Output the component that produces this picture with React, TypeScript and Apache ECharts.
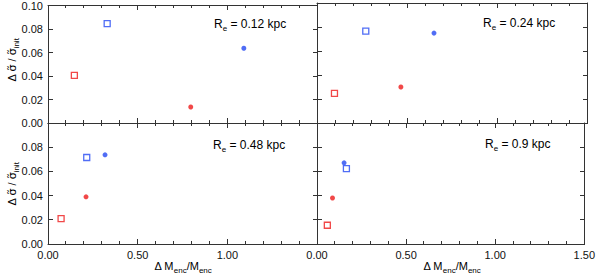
import React, { useEffect, useRef } from 'react';
import * as echarts from 'echarts';

// Effective radius of each panel (kpc)
const panelRe = ['0.12', '0.24', '0.48', '0.9'];
// Tick labels / tick positions
const xTicks = [0, 0.5, 1.0, 1.5];
const xMinorTicks = [0.1, 0.2, 0.3, 0.4, 0.6, 0.7, 0.8, 0.9, 1.1, 1.2, 1.3, 1.4];
const yTicks = [0, 0.02, 0.04, 0.06, 0.08, 0.1];

// Blue open squares
const blueSquareX = [0.33, 0.271, 0.216, 0.165];
const blueSquareY = [0.0845, 0.0765, 0.0715, 0.0623];
// Blue filled dots
const blueDotX = [1.092, 0.65, 0.318, 0.152];
const blueDotY = [0.0636, 0.0749, 0.0737, 0.0671];
// Red open squares
const redSquareX = [0.147, 0.097, 0.073, 0.058];
const redSquareY = [0.0405, 0.0247, 0.021, 0.0155];
// Red filled dots
const redDotX = [0.796, 0.466, 0.212, 0.087];
const redDotY = [0.0136, 0.03, 0.039, 0.038];

const BLUE = '#2448f2';
const RED = '#ee1a1a';
const AXIS = '#333';
const FONT = 'Liberation Sans';

export default function App() {
  const ref = useRef<HTMLDivElement>(null);
  useEffect(() => {
    if (!ref.current) return;
    const chart = echarts.init(ref.current, undefined, { renderer: 'svg' });
    const grids = [
      { left: 48, top: 3, width: 269, height: 120 },
      { left: 317, top: 3, width: 270, height: 120 },
      { left: 48, top: 123, width: 269, height: 121 },
      { left: 317, top: 123, width: 270, height: 121 },
    ];
    const xMin = xTicks[0];
    const xMax = xTicks[xTicks.length - 1];
    const yMin = yTicks[0];
    const yMax = yTicks[yTicks.length - 1];

    // tick descriptors: [x, y, side(0 bottom,1 top,2 left,3 right), length]
    const tickData: number[][] = [];
    xTicks.forEach((v) => {
      tickData.push([v, yMin, 0, 5]);
      tickData.push([v, yMax, 1, 5]);
    });
    xMinorTicks.forEach((v) => {
      tickData.push([v, yMin, 0, 3]);
      tickData.push([v, yMax, 1, 3]);
    });
    yTicks.forEach((v) => {
      tickData.push([xMin, v, 2, 5]);
      tickData.push([xMax, v, 3, 5]);
    });

    const xAxis: any[] = [];
    const yAxis: any[] = [];
    const series: any[] = [];
    const labelStyle = {
      margin: 5,
      fontSize: 11,
      fontFamily: FONT,
      color: '#111',
      formatter: (v: number) => v.toFixed(2),
    };
    grids.forEach((_, gi) => {
      xAxis.push({
        gridIndex: gi,
        type: 'value',
        position: 'bottom',
        min: xMin,
        max: xMax,
        interval: xTicks[1] - xTicks[0],
        splitLine: { show: false },
        axisLine: { show: true, onZero: false, lineStyle: { color: AXIS, width: 1 } },
        axisTick: { show: false },
        axisLabel: { ...labelStyle, show: gi >= 2, showMinLabel: true, showMaxLabel: gi === 3 },
      });
      xAxis.push({
        gridIndex: gi,
        type: 'value',
        position: 'top',
        min: xMin,
        max: xMax,
        interval: xTicks[1] - xTicks[0],
        splitLine: { show: false },
        axisLine: { show: true, onZero: false, lineStyle: { color: AXIS, width: 1 } },
        axisTick: { show: false },
        axisLabel: { show: false },
      });
      yAxis.push({
        gridIndex: gi,
        type: 'value',
        position: 'left',
        min: yMin,
        max: yMax,
        interval: yTicks[1] - yTicks[0],
        splitLine: { show: false },
        axisLine: { show: true, onZero: false, lineStyle: { color: AXIS, width: 1 } },
        axisTick: { show: false },
        axisLabel: { ...labelStyle, show: gi % 2 === 0, showMinLabel: true, showMaxLabel: gi === 0 },
      });
      yAxis.push({
        gridIndex: gi,
        type: 'value',
        position: 'right',
        min: yMin,
        max: yMax,
        interval: yTicks[1] - yTicks[0],
        splitLine: { show: false },
        axisLine: { show: true, onZero: false, lineStyle: { color: AXIS, width: 1 } },
        axisTick: { show: false },
        axisLabel: { show: false },
      });

      const ax = { xAxisIndex: 2 * gi, yAxisIndex: 2 * gi };

      // inward-pointing ticks on all four sides of the panel
      series.push({
        type: 'custom',
        ...ax,
        silent: true,
        clip: false,
        z: 1,
        encode: { x: 0, y: 1 },
        data: tickData,
        renderItem: (params: any, api: any) => {
          const p = api.coord([api.value(0), api.value(1)]);
          const side = api.value(2);
          const len = api.value(3);
          const px = Math.floor(p[0]);
          const py = Math.floor(p[1]);
          let shape;
          if (side === 0) shape = { x: px, y: py - len, width: 1, height: len };
          else if (side === 1) shape = { x: px, y: py, width: 1, height: len };
          else if (side === 2) shape = { x: px, y: py, width: len, height: 1 };
          else shape = { x: px - len + 1, y: py, width: len, height: 1 };
          return { type: 'rect', shape, style: { fill: AXIS } };
        },
      });

      series.push({
        type: 'scatter', ...ax, symbol: 'rect', symbolSize: 6, z: 3,
        itemStyle: { color: '#fff', borderColor: BLUE, borderWidth: 1.3 },
        data: [[blueSquareX[gi], blueSquareY[gi]]],
      });
      series.push({
        type: 'scatter', ...ax, symbol: 'circle', symbolSize: 5, z: 3,
        itemStyle: { color: BLUE },
        data: [[blueDotX[gi], blueDotY[gi]]],
      });
      series.push({
        type: 'scatter', ...ax, symbol: 'rect', symbolSize: 6, z: 3,
        itemStyle: { color: '#fff', borderColor: RED, borderWidth: 1.3 },
        data: [[redSquareX[gi], redSquareY[gi]]],
      });
      series.push({
        type: 'scatter', ...ax, symbol: 'circle', symbolSize: 5, z: 3,
        itemStyle: { color: RED },
        data: [[redDotX[gi], redDotY[gi]]],
      });
    });

    const rich = {
      m: { fontSize: 12, fontFamily: FONT, color: '#111', lineHeight: 16, verticalAlign: 'middle' },
      s: { fontSize: 8, fontFamily: FONT, color: '#111', lineHeight: 8, verticalAlign: 'bottom' },
    };
    const richSmall = {
      m: { fontSize: 11, fontFamily: FONT, color: '#111', lineHeight: 16, verticalAlign: 'middle' },
      t: { fontSize: 11, fontFamily: 'DejaVu Sans', color: '#111', lineHeight: 16, verticalAlign: 'middle' },
      s: { fontSize: 8, fontFamily: FONT, color: '#111', lineHeight: 8, verticalAlign: 'bottom' },
    };
    const rePos = [
      [214, 24],
      [483, 23],
      [213, 145],
      [485, 144],
    ];
    const graphic: any[] = [];
    panelRe.forEach((r, i) => {
      graphic.push({
        type: 'text',
        x: rePos[i][0],
        y: rePos[i][1],
        style: {
          text: `{m|R}{s|e}{m| = ${r} kpc}`,
          rich,
          align: 'left',
          verticalAlign: 'middle',
        },
      });
    });
    const yLabel = '{m|Δ }{t|σ\u0303}{m| / }{t|σ\u0303}{s|init}';
    [60, 184].forEach((cy) => {
      graphic.push({
        type: 'text',
        x: 12,
        y: cy,
        rotation: Math.PI / 2,
        style: { text: yLabel, rich: richSmall, align: 'center', verticalAlign: 'middle' },
      });
    });
    const xLabel = '{m|Δ M}{s|enc}{m|/M}{s|enc}';
    [183, 452].forEach((cx) => {
      graphic.push({
        type: 'text',
        x: cx,
        y: 266,
        style: { text: xLabel, rich: richSmall, align: 'center', verticalAlign: 'middle' },
      });
    });

    chart.setOption({
      animation: false,
      backgroundColor: '#fff',
      grid: grids,
      xAxis,
      yAxis,
      series,
      graphic,
    });
    return () => chart.dispose();
  }, []);
  return (
    <div
      ref={ref}
      style={{ position: 'absolute', left: 0, top: 0, width: 598, height: 277 }}
    />
  );
}
